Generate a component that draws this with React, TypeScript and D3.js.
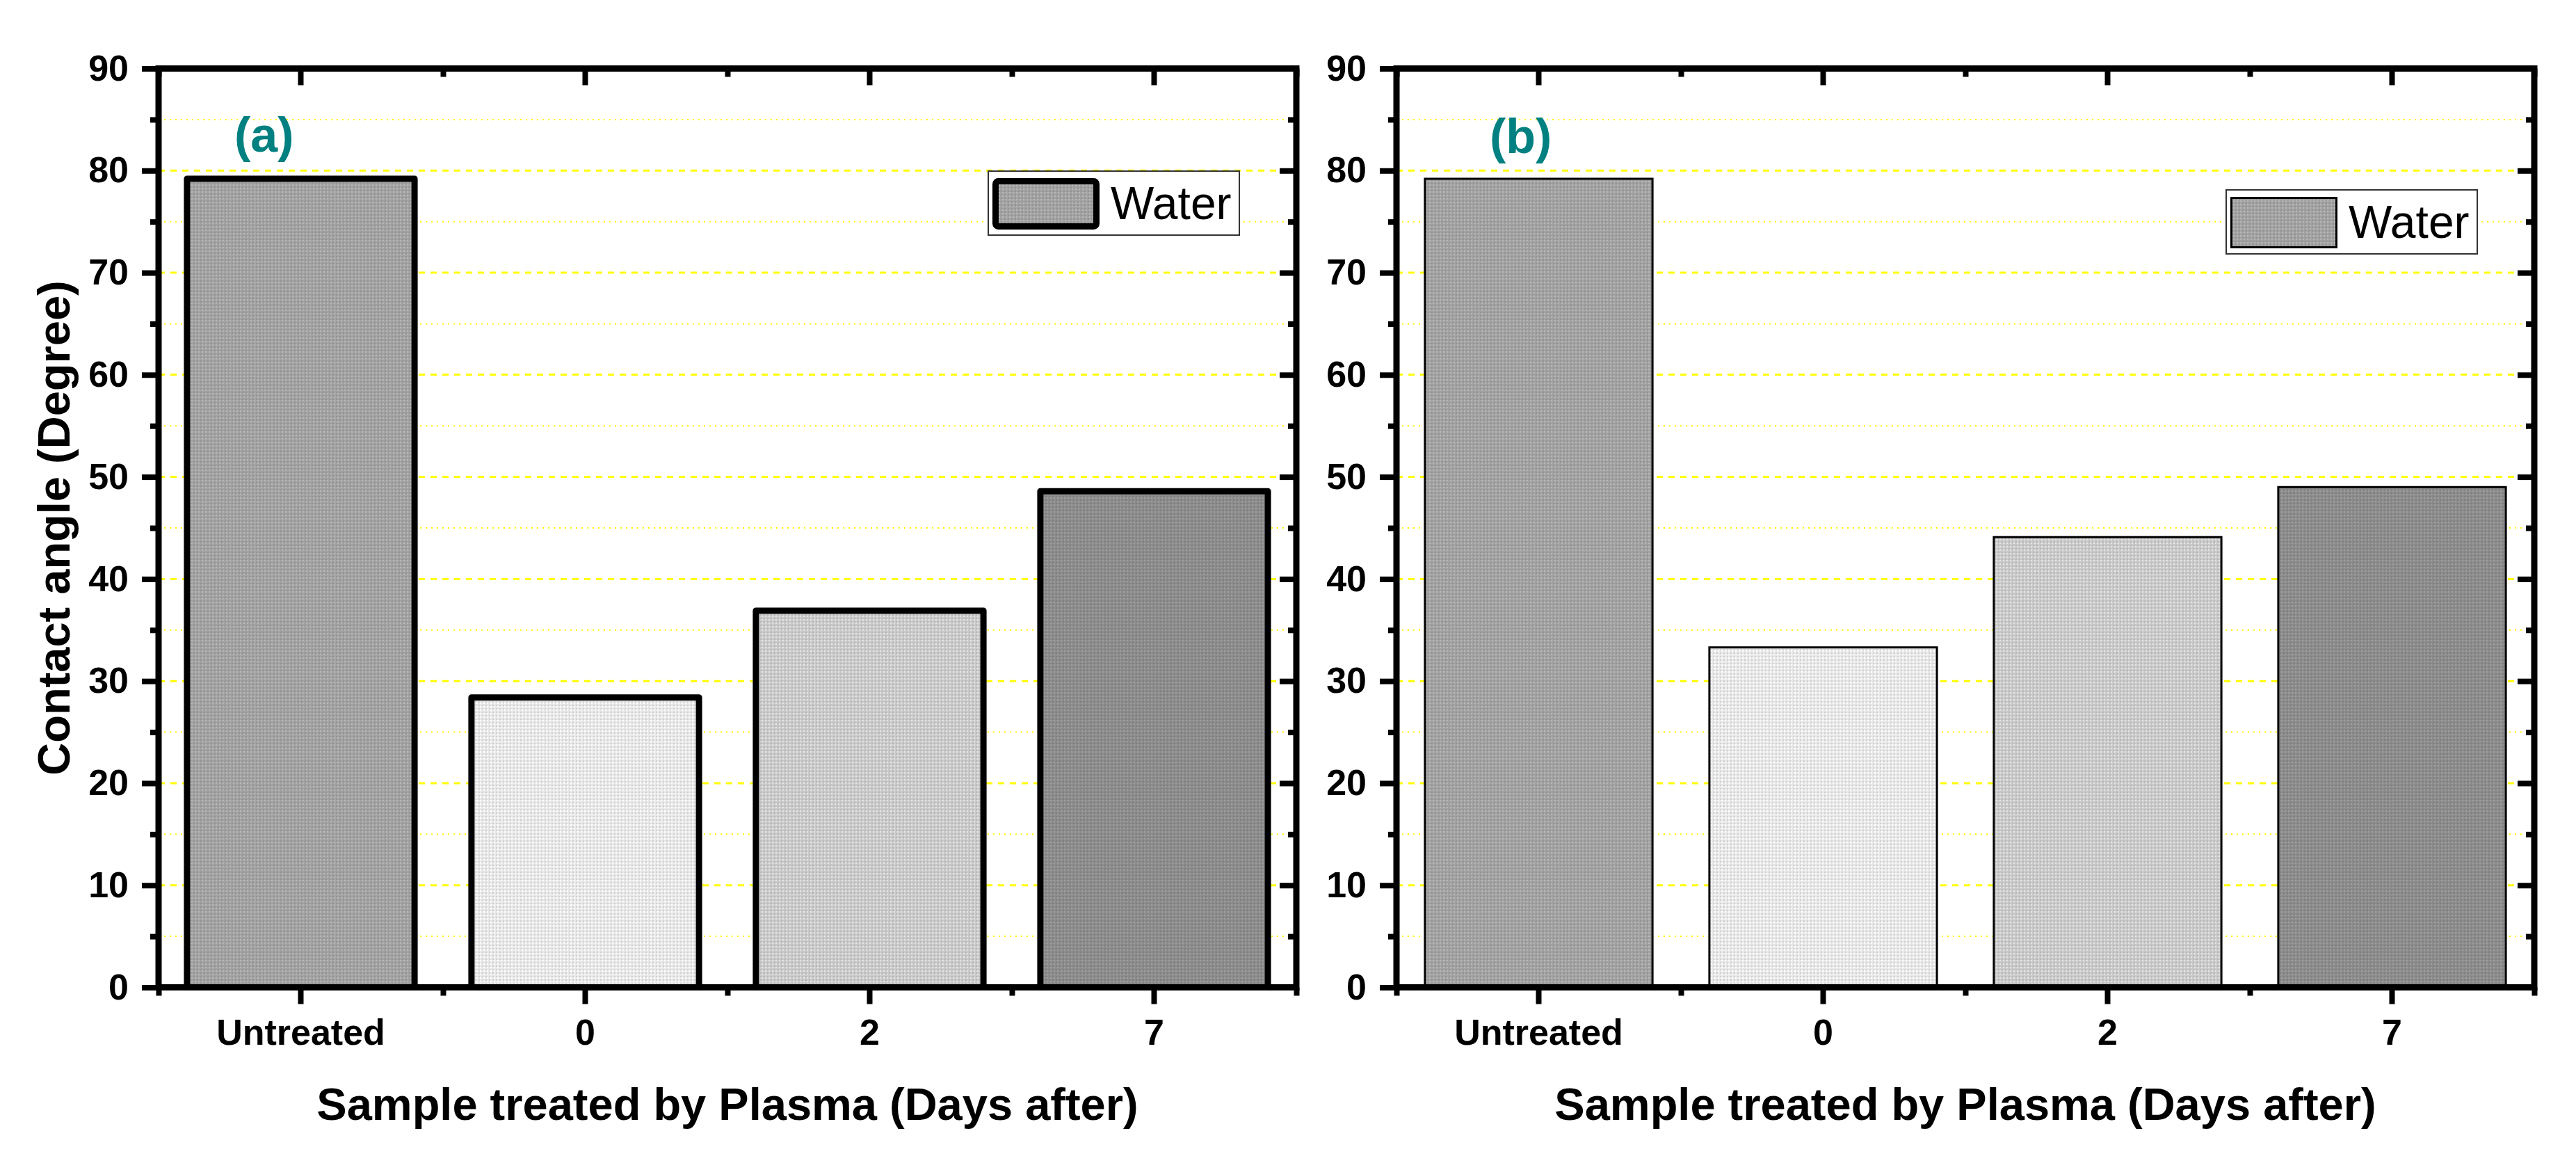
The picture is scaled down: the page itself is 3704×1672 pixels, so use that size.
import * as d3 from "d3";
import { useEffect, useRef } from "react";

const W = 3704;
const H = 1672;

const categories = ["Untreated", "0", "2", "7"];
const waterA = [79.2, 28.4, 36.9, 48.6];
const waterB = [79.2, 33.3, 44.1, 49.0];
const majorTicks = [0, 10, 20, 30, 40, 50, 60, 70, 80, 90];
const minorTicks = [5, 15, 25, 35, 45, 55, 65, 75, 85];
const barGrays = ["#a2a2a2", "#e8e8e8", "#cacaca", "#8c8c8c"];
const xTitle = "Sample treated by Plasma (Days after)";
const yTitle = "Contact angle (Degree)";
const seriesName = "Water";

const FONT = "'Liberation Sans', Arial, Helvetica, sans-serif";

interface PanelOpts {
  values: number[];
  left: number;
  right: number;
  tag: string;
  tagX: number;
  tagY: number;
  legendTop: number;
  thick: boolean;
  showYTitle: boolean;
}

type Sel = d3.Selection<SVGGElement, unknown, null, undefined>;

function styleAxis(sel: Sel) {
  sel.select(".domain").remove();
  sel.selectAll("line").attr("stroke", "#000").attr("stroke-width", 8);
  sel
    .selectAll("text")
    .attr("font-family", FONT)
    .attr("font-weight", "bold")
    .attr("font-size", 52)
    .attr("fill", "#000");
}

function drawPanel(svg: d3.Selection<SVGSVGElement, unknown, null, undefined>, o: PanelOpts) {
  const top = 98.5;
  const bottom = 1419.5;
  const y = d3.scaleLinear().domain([0, 90]).range([bottom, top]);
  const x = d3
    .scaleBand()
    .domain(categories)
    .range([o.left, o.right])
    .paddingInner(0.2)
    .paddingOuter(0.1);
  const xEdge = d3.scaleLinear().domain([0, categories.length]).range([o.left, o.right]);

  const g = svg.append("g");

  // grid lines: dotted at minor, dashed at major
  g.append("g")
    .selectAll("line")
    .data(minorTicks)
    .join("line")
    .attr("x1", o.left)
    .attr("x2", o.right)
    .attr("y1", (d) => y(d))
    .attr("y2", (d) => y(d))
    .attr("stroke", "#ffff00")
    .attr("stroke-width", 2)
    .attr("stroke-dasharray", "2,6");
  g.append("g")
    .selectAll("line")
    .data(majorTicks.filter((d) => d > 0 && d < 90))
    .join("line")
    .attr("x1", o.left)
    .attr("x2", o.right)
    .attr("y1", (d) => y(d))
    .attr("y2", (d) => y(d))
    .attr("stroke", "#ffff00")
    .attr("stroke-width", 3)
    .attr("stroke-dasharray", "9,8");

  // bars
  g.append("g")
    .selectAll("rect")
    .data(o.values)
    .join("rect")
    .attr("x", (_, i) => x(categories[i]) ?? 0)
    .attr("y", (d) => y(d))
    .attr("width", x.bandwidth())
    .attr("height", (d) => y(0) - y(d))
    .attr("fill", (_, i) => `url(#fill-${i})`)
    .attr("stroke", "#000")
    .attr("stroke-width", o.thick ? 9 : 3)
    .attr("stroke-linejoin", o.thick ? "round" : "miter");

  // ticks
  g.append("g")
    .attr("transform", `translate(${o.left},0)`)
    .call(d3.axisLeft(y).tickValues(majorTicks).tickSize(24).tickPadding(19))
    .call(styleAxis);
  g.append("g")
    .attr("transform", `translate(${o.left},0)`)
    .call(d3.axisLeft(y).tickValues(minorTicks).tickSize(12).tickFormat(() => ""))
    .call(styleAxis);
  g.append("g")
    .attr("transform", `translate(${o.right},0)`)
    .call(d3.axisRight(y).tickValues(majorTicks).tickSize(-24).tickFormat(() => ""))
    .call(styleAxis);
  g.append("g")
    .attr("transform", `translate(${o.right},0)`)
    .call(d3.axisRight(y).tickValues(minorTicks).tickSize(-12).tickFormat(() => ""))
    .call(styleAxis);
  g.append("g")
    .attr("transform", `translate(0,${bottom})`)
    .call(d3.axisBottom(x).tickSize(24).tickPadding(22))
    .call(styleAxis);
  g.append("g")
    .attr("transform", `translate(0,${bottom})`)
    .call(d3.axisBottom(xEdge).tickValues(d3.range(categories.length + 1)).tickSize(12).tickFormat(() => ""))
    .call(styleAxis);
  g.append("g")
    .attr("transform", `translate(0,${top})`)
    .call(d3.axisTop(x).tickSize(-24).tickFormat(() => ""))
    .call(styleAxis);
  g.append("g")
    .attr("transform", `translate(0,${top})`)
    .call(d3.axisTop(xEdge).tickValues(d3.range(categories.length + 1)).tickSize(-12).tickFormat(() => ""))
    .call(styleAxis);

  // frame
  g.append("rect")
    .attr("x", o.left)
    .attr("y", top)
    .attr("width", o.right - o.left)
    .attr("height", bottom - top)
    .attr("fill", "none")
    .attr("stroke", "#000")
    .attr("stroke-width", 9);

  // titles
  g.append("text")
    .attr("x", (o.left + o.right) / 2)
    .attr("y", 1610)
    .attr("text-anchor", "middle")
    .attr("font-family", FONT)
    .attr("font-weight", "bold")
    .attr("font-size", 65)
    .text(xTitle);
  if (o.showYTitle) {
    g.append("text")
      .attr("transform", `translate(100,${(top + bottom) / 2}) rotate(-90)`)
      .attr("text-anchor", "middle")
      .attr("font-family", FONT)
      .attr("font-weight", "bold")
      .attr("font-size", 65)
      .text(yTitle);
  }

  g.append("text")
    .attr("x", o.tagX)
    .attr("y", o.tagY)
    .attr("font-family", FONT)
    .attr("font-weight", "bold")
    .attr("font-size", 70)
    .attr("fill", "#008080")
    .text(o.tag);

  // legend
  const boxW = 361;
  const boxH = 92;
  const lx = o.right - 82 - boxW;
  const ly = o.legendTop;
  const lg = g.append("g").attr("transform", `translate(${lx},${ly})`);
  lg.append("rect")
    .attr("width", boxW)
    .attr("height", boxH)
    .attr("fill", "#fff")
    .attr("stroke", "#333")
    .attr("stroke-width", 2);
  const sw = o.thick ? 9 : 3;
  lg.append("rect")
    .attr("x", 6 + sw / 2)
    .attr("y", 10 + sw / 2)
    .attr("width", 154 - sw)
    .attr("height", 74 - sw)
    .attr("rx", o.thick ? 4 : 0)
    .attr("fill", "url(#fill-0)")
    .attr("stroke", "#000")
    .attr("stroke-width", sw);
  lg.append("text")
    .attr("x", 176)
    .attr("y", 69)
    .attr("font-family", FONT)
    .attr("font-size", 66)
    .text(seriesName);
}

export default function App() {
  const ref = useRef<SVGSVGElement>(null);

  useEffect(() => {
    if (!ref.current) return;
    const svg = d3.select(ref.current);
    svg.selectAll("*").remove();

    // textured gray fills, roughly like the origin pattern fills
    const defs = svg.append("defs");
    barGrays.forEach((c, i) => {
      const base = d3.color(c)!;
      const p = defs
        .append("pattern")
        .attr("id", `fill-${i}`)
        .attr("patternUnits", "userSpaceOnUse")
        .attr("width", 5)
        .attr("height", 5);
      p.append("rect").attr("width", 5).attr("height", 5).attr("fill", c);
      p.append("rect").attr("width", 2).attr("height", 2).attr("fill", base.brighter(0.35).formatHex());
      p.append("rect").attr("x", 3).attr("y", 3).attr("width", 2).attr("height", 2).attr("fill", base.darker(0.3).formatHex());
    });

    drawPanel(svg, {
      values: waterA,
      left: 228,
      right: 1864,
      tag: "(a)",
      tagX: 337,
      tagY: 218,
      legendTop: 246,
      thick: true,
      showYTitle: true,
    });
    drawPanel(svg, {
      values: waterB,
      left: 2008,
      right: 3644,
      tag: "(b)",
      tagX: 2142,
      tagY: 220,
      legendTop: 273,
      thick: false,
      showYTitle: false,
    });
  }, []);

  return (
    <svg
      ref={ref}
      width={W}
      height={H}
      style={{ position: "absolute", left: 0, top: 0, background: "#fff" }}
    />
  );
}
